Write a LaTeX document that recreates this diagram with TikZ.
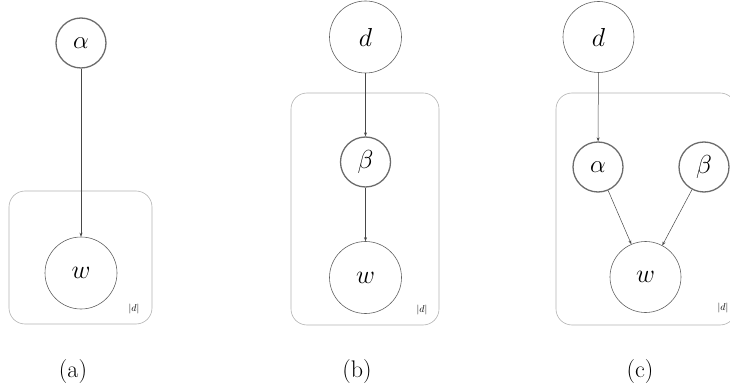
\RequirePackage{fix-cm}
\documentclass[tikz,border=0pt]{standalone}
\usetikzlibrary{arrows.meta}
\begin{document}
\begin{tikzpicture}[x=1pt,y=-1pt,
  bigvar/.style={circle,draw=black!62,line width=0.6pt,minimum size=72pt,inner sep=0pt,
    font=\fontsize{26}{28}\selectfont},
  smallvar/.style={circle,draw=black!58,line width=1.3pt,minimum size=50pt,inner sep=0pt,
    font=\fontsize{26}{28}\selectfont},
  alphavar/.style={smallvar,font=\fontsize{25}{27}\selectfont},
  plate/.style={draw=black!30,line width=0.6pt,rounded corners=16pt},
  edge/.style={draw=black!72,line width=0.5pt,-{Stealth[length=4pt,width=3pt]}},
  caption/.style={font=\fontsize{24}{26}\selectfont},
  count/.style={font=\fontsize{10}{11}\selectfont,inner sep=0pt}]
\useasboundingbox (0,0) rectangle (730,387);

% (a) alpha -> w
\draw[plate] (9,191) rectangle (152,324);
\node[alphavar] (aA) at (81,43) {$\alpha$};
\node[bigvar] (aW) at (81,273) {$w$};
\node[count] (aN) at (134,309) {$|d|$};
\draw[edge] (aA) -- (aW);
\node[caption] (aCap) at (73,372) {(a)};

% (b) d -> beta -> w
\draw[plate] (291,93) rectangle (439,325);
\node[bigvar] (bD) at (365.5,37) {$d$};
\node[smallvar] (bB) at (365.5,162) {$\beta$};
\node[bigvar] (bW) at (365.5,277.5) {$w$};
\node[count] (bN) at (422,310) {$|d|$};
\draw[edge] (bD) -- (bB);
\draw[edge] (bB) -- (bW);
\node[caption] (bCap) at (357,372) {(b)};

% (c) d -> alpha, alpha -> w <- beta
\draw[plate] (556,93) rectangle (736,325);
\node[bigvar,minimum size=71pt] (cD) at (598.5,37) {$d$};
\node[alphavar] (cA) at (598,167) {$\alpha$};
\node[smallvar] (cB) at (704,167) {$\beta$};
\node[bigvar,minimum size=71pt] (cW) at (645.5,277) {$w$};
\node[count] (cN) at (723,308) {$|d|$};
\draw[edge] (cD) -- (cA);
\draw[edge] (cA) -- (cW);
\draw[edge] (cB) -- (cW);
\node[caption] (cCap) at (640,372) {(c)};
\end{tikzpicture}
\end{document}
